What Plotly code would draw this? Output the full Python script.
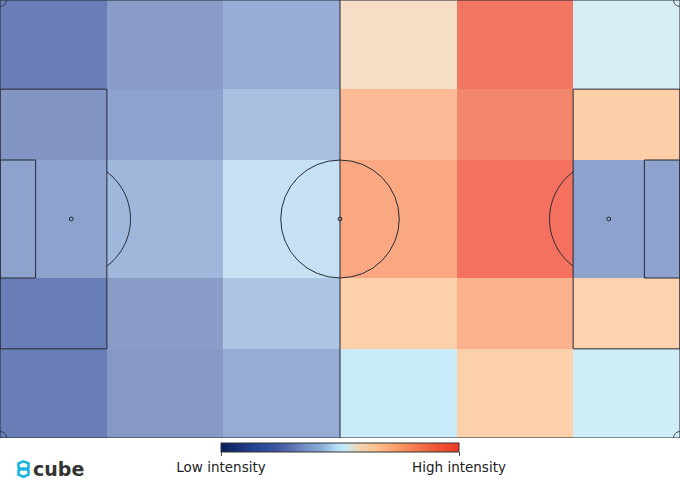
import plotly.graph_objects as go
import numpy as np

# zone edges on a 105 x 68 pitch (metres)
x_edges = [0, 16.5, 34.5, 52.5, 70.5, 88.5, 105]
y_edges = [0, 13.84, 24.84, 43.16, 54.16, 68]

# intensity per zone, top row first
row_top = [0.22, 0.32, 0.36, 0.58, 0.95, 0.525]
row_upper = [0.30, 0.33, 0.42, 0.72, 0.88, 0.66]
row_mid = [0.33, 0.39, 0.48, 0.78, 0.97, 0.33]
row_lower = [0.22, 0.32, 0.43, 0.65, 0.75, 0.64]
row_bottom = [0.22, 0.31, 0.355, 0.495, 0.65, 0.51]
intensity = [row_top, row_upper, row_mid, row_lower, row_bottom]

bar_ticks = [0, 1]
bar_labels = ['Low intensity', 'High intensity']

scale = [
    [0.00, 'rgb(10,28,90)'],
    [0.15, 'rgb(40,70,150)'],
    [0.22, 'rgb(56,83,158)'],
    [0.30, 'rgb(90,114,176)'],
    [0.36, 'rgb(116,148,200)'],
    [0.42, 'rgb(138,171,214)'],
    [0.48, 'rgb(180,216,240)'],
    [0.50, 'rgb(184,230,248)'],
    [0.53, 'rgb(205,232,240)'],
    [0.58, 'rgb(242,212,178)'],
    [0.66, 'rgb(254,190,140)'],
    [0.72, 'rgb(252,164,115)'],
    [0.78, 'rgb(248,139,88)'],
    [0.88, 'rgb(238,96,62)'],
    [1.00, 'rgb(240,56,34)'],
]

fig = go.Figure()

fig.add_trace(go.Heatmap(
    x=x_edges,
    y=y_edges,
    z=intensity,
    zmin=0, zmax=1,
    colorscale=scale,
    opacity=0.75,
    hoverinfo='skip',
    colorbar=dict(
        orientation='h',
        x=0.5, xanchor='center',
        y=-0.012, yanchor='top',
        len=258, lenmode='pixels',
        thickness=9,
        ypad=0,
        outlinewidth=1, outlinecolor='#333',
        tickvals=bar_ticks, ticktext=bar_labels,
        ticks='outside', ticklen=4, tickcolor='#444',
        tickfont=dict(family='DejaVu Sans', size=13.5, color='#222'),
    ),
))

line_col = '#262935'
shapes = []


def rect(x0, y0, x1, y1):
    shapes.append(dict(type='rect', x0=x0, y0=y0, x1=x1, y1=y1,
                       line=dict(color=line_col, width=1), layer='above'))


def ring(cx, cy, r):
    shapes.append(dict(type='circle', x0=cx - r, y0=cy - r, x1=cx + r, y1=cy + r,
                       line=dict(color=line_col, width=1), layer='above'))


def arc(cx, cy, r, a0, a1):
    t = np.linspace(np.radians(a0), np.radians(a1), 40)
    px = cx + r * np.cos(t)
    py = cy + r * np.sin(t)
    path = 'M ' + ' L '.join(f'{a:.3f},{b:.3f}' for a, b in zip(px, py))
    shapes.append(dict(type='path', path=path,
                       line=dict(color=line_col, width=1), layer='above'))


# pitch outline and markings
rect(0, 0, 105, 68)
shapes.append(dict(type='line', x0=52.5, y0=0, x1=52.5, y1=68,
                   line=dict(color=line_col, width=1), layer='above'))
ring(52.5, 34, 9.15)
ring(52.5, 34, 0.3)
rect(0, 13.84, 16.5, 54.16)
rect(88.5, 13.84, 105, 54.16)
rect(0, 24.84, 5.5, 43.16)
rect(99.5, 24.84, 105, 43.16)
ring(11, 34, 0.3)
ring(94, 34, 0.3)
ang = np.degrees(np.arccos(5.5 / 9.15))
arc(11, 34, 9.15, -ang, ang)
arc(94, 34, 9.15, 180 - ang, 180 + ang)
arc(0, 0, 1, 0, 90)
arc(105, 0, 1, 90, 180)
arc(0, 68, 1, -90, 0)
arc(105, 68, 1, 180, 270)


# cube logo (paper coords from pixels)
def px(x):
    return x / 680


def py(y):
    return (438 - y) / 438


for cy in [465.5, 472.5]:
    pts = [(23.5 + 5.8 * np.cos(np.radians(a)), cy + 4.2 * np.sin(np.radians(a)))
           for a in [30, 90, 150, 210, 270, 330]]
    hx = 'M ' + ' L '.join(f'{px(a):.4f},{py(b):.4f}' for a, b in pts) + ' Z'
    shapes.append(dict(type='path', path=hx, xref='paper', yref='paper',
                       line=dict(color='#1cb5e0', width=2.6)))

fig.update_layout(
    width=680, height=490,
    margin=dict(l=0, r=0, t=0, b=52, autoexpand=False),
    paper_bgcolor='white',
    plot_bgcolor='white',
    shapes=shapes,
    xaxis=dict(range=[0, 105], visible=False, fixedrange=True),
    yaxis=dict(range=[68, 0], visible=False, fixedrange=True),
    annotations=[dict(
        text='<b>cube</b>', x=px(31), y=py(469), xref='paper', yref='paper',
        xanchor='left', yanchor='middle', showarrow=False,
        font=dict(family='DejaVu Sans', size=19, color='#333'),
    )],
)

# page body has a default 8px margin; drop it so the figure fills the window
fig.write_html("out.html", config={'displayModeBar': False},
               post_script="document.body.style.margin='0';")
